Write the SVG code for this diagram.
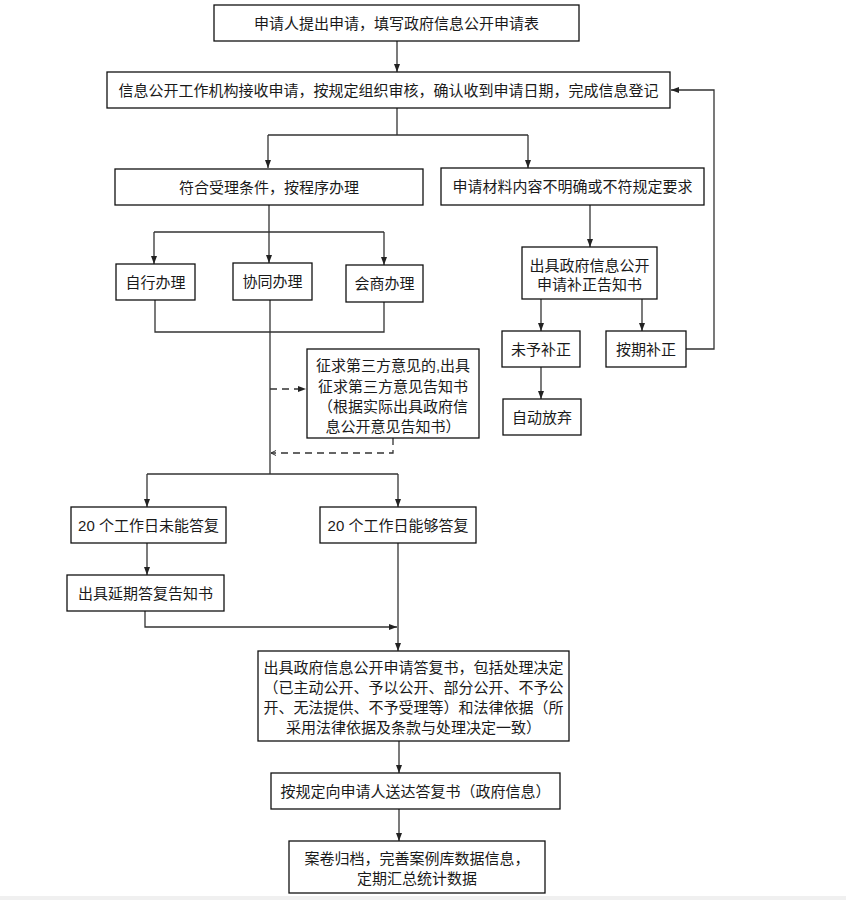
<svg xmlns="http://www.w3.org/2000/svg" width="846" height="900" viewBox="0 0 846 900">
<style>
.box{fill:#fff;stroke:#111;stroke-width:1.3}
.t{font-family:"Liberation Sans","Noto Sans CJK SC",sans-serif;font-size:15px;fill:#1a1a1a;text-anchor:middle}
.c{fill:none;stroke:#333;stroke-width:1.3}
.d{fill:none;stroke:#333;stroke-width:1.3;stroke-dasharray:7 5}
</style>
<defs>
<marker id="ah" markerUnits="userSpaceOnUse" markerWidth="8" markerHeight="8" viewBox="0 0 8 8" refX="8" refY="4" orient="auto">
<path d="M0,1 L8,4 L0,7 Z" fill="#222"/>
</marker>
<marker id="oh" markerUnits="userSpaceOnUse" markerWidth="8" markerHeight="8" viewBox="0 0 8 8" refX="7" refY="4" orient="auto">
<path d="M2,1.5 L7,4 L2,6.5" fill="none" stroke="#333" stroke-width="1"/>
</marker>
</defs>
<rect x="0" y="0" width="846" height="900" fill="#fff"/>
<rect x="0" y="896" width="846" height="4" fill="#f0f0f0"/>

<g id="connectors">
<path class="c" d="M397,41 V72" marker-end="url(#ah)"/>
<path class="c" d="M397,108 V135 M268,135 H528"/>
<path class="c" d="M268,135 V168" marker-end="url(#ah)"/>
<path class="c" d="M528,135 V168" marker-end="url(#ah)"/>
<path class="c" d="M269,205 V232 M154,232 H384"/>
<path class="c" d="M154,232 V264" marker-end="url(#ah)"/>
<path class="c" d="M269,232 V263" marker-end="url(#ah)"/>
<path class="c" d="M384,232 V265" marker-end="url(#ah)"/>
<path class="c" d="M155,300 V332 H384 V302"/>
<path class="c" d="M270,300 V474"/>
<path class="d" d="M270,389 H306" marker-end="url(#ah)"/>
<path class="d" d="M393,438 V453 H271" marker-end="url(#oh)"/>
<path class="c" d="M147,474 H398"/>
<path class="c" d="M147,474 V507" marker-end="url(#ah)"/>
<path class="c" d="M398,474 V507" marker-end="url(#ah)"/>
<path class="c" d="M147,543 V575" marker-end="url(#ah)"/>
<path class="c" d="M145,611 V627 H397" marker-end="url(#ah)"/>
<path class="c" d="M398,543 V651" marker-end="url(#ah)"/>
<path class="c" d="M399,741 V773" marker-end="url(#ah)"/>
<path class="c" d="M399,809 V841" marker-end="url(#ah)"/>
<path class="c" d="M590,205 V247" marker-end="url(#ah)"/>
<path class="c" d="M541,299 V331" marker-end="url(#ah)"/>
<path class="c" d="M642,299 V331" marker-end="url(#ah)"/>
<path class="c" d="M541,367 V399" marker-end="url(#ah)"/>
<path class="c" d="M686,349 H714 V90 H671" marker-end="url(#ah)"/>
</g>

<g id="n1"><rect class="box" x="214" y="5" width="365" height="36"/><text class="t" x="396.5" y="28.5">申请人提出申请，填写政府信息公开申请表</text></g>
<g id="n2"><rect class="box" x="107" y="72" width="563" height="36"/><text class="t" x="388.5" y="95.5">信息公开工作机构接收申请，按规定组织审核，确认收到申请日期，完成信息登记</text></g>
<g id="n3"><rect class="box" x="115" y="169" width="308" height="36"/><text class="t" x="269" y="192.5">符合受理条件，按程序办理</text></g>
<g id="n4"><rect class="box" x="441" y="168" width="263" height="37"/><text class="t" x="572.5" y="192">申请材料内容不明确或不符规定要求</text></g>
<g id="n5"><rect class="box" x="116" y="264" width="79" height="36"/><text class="t" x="155.5" y="287.5">自行办理</text></g>
<g id="n6"><rect class="box" x="233" y="263" width="79" height="37"/><text class="t" x="272.5" y="286.5">协同办理</text></g>
<g id="n7"><rect class="box" x="346" y="265" width="77" height="37"/><text class="t" x="384.5" y="288.5">会商办理</text></g>
<g id="n8"><rect class="box" x="307" y="349" width="172" height="89"/>
<text class="t" x="393" y="371">征求第三方意见的,出具</text>
<text class="t" x="393" y="392">征求第三方意见告知书</text>
<text class="t" x="393" y="412">（根据实际出具政府信</text>
<text class="t" x="393" y="432">息公开意见告知书）</text></g>
<g id="n9"><rect class="box" x="522" y="247" width="135" height="52"/>
<text class="t" x="589.5" y="271">出具政府信息公开</text>
<text class="t" x="589.5" y="290">申请补正告知书</text></g>
<g id="n10"><rect class="box" x="502" y="331" width="78" height="36"/><text class="t" x="541" y="354.5">未予补正</text></g>
<g id="n11"><rect class="box" x="606" y="331" width="80" height="36"/><text class="t" x="646" y="354.5">按期补正</text></g>
<g id="n12"><rect class="box" x="503" y="399" width="78" height="36"/><text class="t" x="542" y="422.5">自动放弃</text></g>
<g id="n13"><rect class="box" x="71" y="507" width="155" height="36"/><text class="t" x="148.5" y="530.5">20 个工作日未能答复</text></g>
<g id="n14"><rect class="box" x="320" y="507" width="156" height="36"/><text class="t" x="398" y="530.5">20 个工作日能够答复</text></g>
<g id="n15"><rect class="box" x="67" y="575" width="157" height="36"/><text class="t" x="145.5" y="598.5">出具延期答复告知书</text></g>
<g id="n16"><rect class="box" x="258" y="651" width="311" height="90"/>
<text class="t" x="413.5" y="672.5">出具政府信息公开申请答复书，包括处理决定</text>
<text class="t" x="413.5" y="692.5">（已主动公开、予以公开、部分公开、不予公</text>
<text class="t" x="413.5" y="712.5">开、无法提供、不予受理等）和法律依据（所</text>
<text class="t" x="413.5" y="732.5">采用法律依据及条款与处理决定一致）</text></g>
<g id="n17"><rect class="box" x="271" y="773" width="289" height="36"/><text class="t" x="415.5" y="796.5">按规定向申请人送达答复书（政府信息）</text></g>
<g id="n18"><rect class="box" x="289" y="841" width="256" height="52"/>
<text class="t" x="417" y="863.5">案卷归档，完善案例库数据信息，</text>
<text class="t" x="417" y="883.5">定期汇总统计数据</text></g>
</svg>
